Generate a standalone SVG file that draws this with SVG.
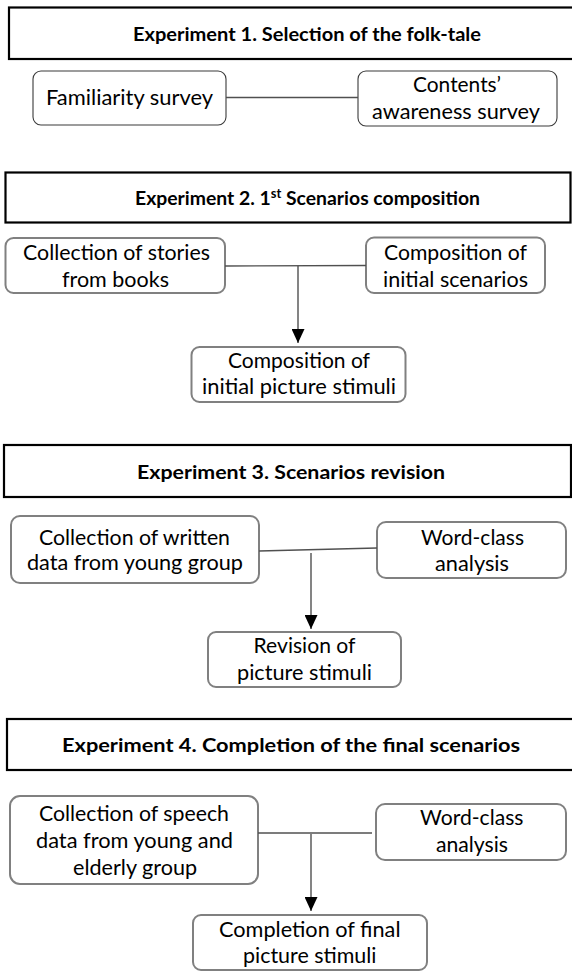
<svg xmlns="http://www.w3.org/2000/svg" width="572" height="971" viewBox="0 0 572 971">
<defs>
<style>
.hdr{fill:#fff;stroke:#000;stroke-width:2.2}
.n1{fill:#fff;stroke:#3a3a3a;stroke-width:1.1}
.n{fill:#fff;stroke:#808080;stroke-width:2}
.t{font-family:Lato,"Open Sans","Liberation Sans",sans-serif;font-size:20.5px;fill:#000}
.tb{font-family:Lato,"Open Sans","Liberation Sans",sans-serif;font-size:19.5px;font-weight:bold;fill:#000}
.c{fill:none;stroke:#505050;stroke-width:1.4}
</style>
<marker id="ah" markerWidth="14" markerHeight="13" refX="14" refY="6.5" orient="auto" markerUnits="userSpaceOnUse" viewBox="0 0 14 13">
<path d="M0,0 L14,6.5 L0,13 Z" fill="#000"/>
</marker>
</defs>

<g id="exp1-header">
<rect class="hdr" x="9" y="7.5" width="570" height="51.5"/>
<text class="tb" x="133" y="41" textLength="348" lengthAdjust="spacingAndGlyphs">Experiment 1. Selection of the folk-tale</text>
</g>
<g id="exp1-familiarity">
<rect class="n1" x="33" y="71" width="193" height="54" rx="8"/>
<text class="t" x="46" y="105" textLength="167" lengthAdjust="spacingAndGlyphs">Familiarity survey</text>
</g>
<g id="exp1-contents">
<rect class="n1" x="358" y="71" width="199" height="55" rx="8"/>
<text class="t" x="413" y="92" textLength="88" lengthAdjust="spacingAndGlyphs">Contents’</text>
<text class="t" x="372" y="119" textLength="168" lengthAdjust="spacingAndGlyphs">awareness survey</text>
</g>

<g id="exp2-header">
<rect class="hdr" x="5.5" y="172.5" width="565" height="50"/>
<text class="tb" x="135" y="205" textLength="345" lengthAdjust="spacingAndGlyphs">Experiment 2. 1<tspan font-size="13" dy="-7">st</tspan><tspan dy="7"> Scenarios composition</tspan></text>
</g>
<g id="exp2-collection">
<rect class="n" x="5.5" y="238" width="219.5" height="55" rx="8"/>
<text class="t" x="23" y="260" textLength="187" lengthAdjust="spacingAndGlyphs">Collection of stories</text>
<text class="t" x="62" y="287" textLength="107" lengthAdjust="spacingAndGlyphs">from books</text>
</g>
<g id="exp2-scenarios">
<rect class="n" x="366" y="237.5" width="179" height="55.5" rx="8"/>
<text class="t" x="384" y="260" textLength="143" lengthAdjust="spacingAndGlyphs">Composition of</text>
<text class="t" x="383" y="287" textLength="145" lengthAdjust="spacingAndGlyphs">initial scenarios</text>
</g>
<g id="exp2-picture">
<rect class="n" x="191.5" y="347" width="214" height="55" rx="8"/>
<text class="t" x="228" y="368" textLength="142" lengthAdjust="spacingAndGlyphs">Composition of</text>
<text class="t" x="202" y="394" textLength="194" lengthAdjust="spacingAndGlyphs">initial picture stimuli</text>
</g>

<g id="exp3-header">
<rect class="hdr" x="4" y="445" width="567" height="52"/>
<text class="tb" x="137" y="479" textLength="308" lengthAdjust="spacingAndGlyphs">Experiment 3.  Scenarios revision</text>
</g>
<g id="exp3-collection">
<rect class="n" x="11" y="516" width="248" height="67" rx="9"/>
<text class="t" x="39" y="545" textLength="191" lengthAdjust="spacingAndGlyphs">Collection of written</text>
<text class="t" x="27" y="570" textLength="216" lengthAdjust="spacingAndGlyphs">data from young group</text>
</g>
<g id="exp3-wordclass">
<rect class="n" x="377" y="522" width="189" height="56" rx="9"/>
<text class="t" x="421" y="545" textLength="103" lengthAdjust="spacingAndGlyphs">Word-class</text>
<text class="t" x="435" y="571" textLength="74" lengthAdjust="spacingAndGlyphs">analysis</text>
</g>
<g id="exp3-revision">
<rect class="n" x="208" y="632" width="193" height="55" rx="8"/>
<text class="t" x="253.5" y="653" textLength="102" lengthAdjust="spacingAndGlyphs">Revision of</text>
<text class="t" x="237" y="680" textLength="135" lengthAdjust="spacingAndGlyphs">picture stimuli</text>
</g>

<g id="exp4-header">
<rect class="hdr" x="7" y="719" width="570" height="51"/>
<text class="tb" x="62" y="752" textLength="458" lengthAdjust="spacingAndGlyphs">Experiment 4. Completion of the final scenarios</text>
</g>
<g id="exp4-collection">
<rect class="n" x="10" y="796" width="248" height="88" rx="10"/>
<text class="t" x="39" y="821" textLength="190" lengthAdjust="spacingAndGlyphs">Collection of speech</text>
<text class="t" x="36" y="848" textLength="197" lengthAdjust="spacingAndGlyphs">data from young and</text>
<text class="t" x="73" y="875" textLength="124" lengthAdjust="spacingAndGlyphs">elderly group</text>
</g>
<g id="exp4-wordclass">
<rect class="n" x="376" y="804" width="190" height="56" rx="9"/>
<text class="t" x="420" y="825" textLength="103.5" lengthAdjust="spacingAndGlyphs">Word-class</text>
<text class="t" x="436" y="852" textLength="72" lengthAdjust="spacingAndGlyphs">analysis</text>
</g>
<g id="exp4-completion">
<rect class="n" x="193" y="915" width="234" height="55" rx="8"/>
<text class="t" x="219" y="937" textLength="181.5" lengthAdjust="spacingAndGlyphs">Completion of final</text>
<text class="t" x="243" y="963" textLength="133.5" lengthAdjust="spacingAndGlyphs">picture stimuli</text>
</g>

<g id="connectors">
<line class="c" x1="226" y1="97.5" x2="358" y2="97.5"/>
<line class="c" x1="225" y1="266" x2="366" y2="265.5"/>
<line class="c" x1="298" y1="266" x2="298" y2="343" marker-end="url(#ah)"/>
<line class="c" x1="259" y1="551" x2="377" y2="548"/>
<line class="c" x1="311" y1="553" x2="311" y2="629" marker-end="url(#ah)"/>
<line class="c" x1="258" y1="833" x2="372" y2="833"/>
<line class="c" x1="311" y1="834" x2="311" y2="911" marker-end="url(#ah)"/>
</g>
</svg>
